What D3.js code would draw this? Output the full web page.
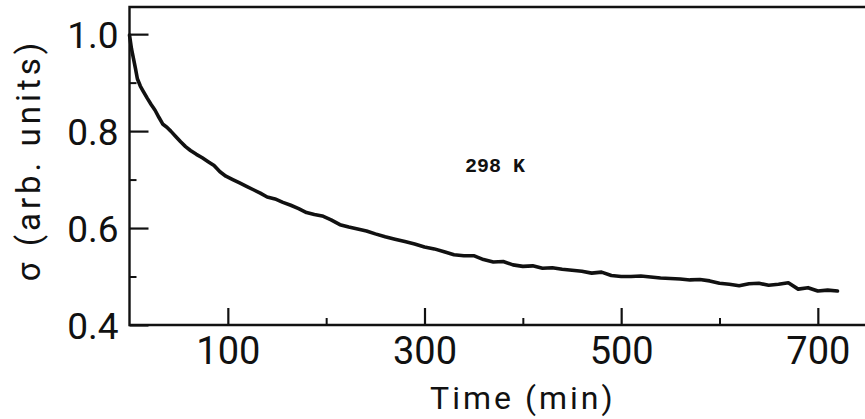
<!DOCTYPE html>
<html>
<head>
<meta charset="utf-8">
<script src="https://cdn.jsdelivr.net/npm/d3@7/dist/d3.min.js"></script>
<style>
  html, body { margin: 0; padding: 0; background: #fff; }
  svg { display: block; }
  text { fill: #111; }
</style>
</head>
<body>
<svg id="chart" width="865" height="419"></svg>
<script>
// Relaxation of sigma at 298 K: time in minutes vs. normalized value
const times = [0, 2, 4, 6, 8, 11, 14, 18, 22, 26, 30, 34, 38, 42, 47, 52, 57, 62, 68, 74,
  80, 86, 92, 98, 105, 112, 119, 126, 133, 140, 148, 156, 164, 172, 180, 188, 196, 205, 214, 223,
  232, 241, 250, 260, 270, 280, 290, 300, 310, 320, 330, 340, 350, 360, 370, 380, 390, 400, 410, 420,
  430, 440, 450, 460, 470, 480, 490, 500, 510, 520, 530, 540, 550, 560, 570, 580, 590, 600, 610, 620,
  630, 640, 650, 660, 670, 680, 690, 700, 710, 720];
const sigma = [0.998, 0.970, 0.950, 0.930, 0.908, 0.893, 0.882, 0.868, 0.855, 0.843, 0.828, 0.814, 0.808, 0.800, 0.789, 0.778, 0.768, 0.760, 0.752, 0.745,
  0.737, 0.729, 0.716, 0.707, 0.700, 0.693, 0.686, 0.679, 0.672, 0.664, 0.660, 0.653, 0.647, 0.640, 0.632, 0.628, 0.625, 0.617, 0.607, 0.602,
  0.598, 0.594, 0.588, 0.582, 0.577, 0.572, 0.567, 0.561, 0.557, 0.551, 0.545, 0.543, 0.543, 0.535, 0.530, 0.531, 0.524, 0.521, 0.522, 0.517,
  0.518, 0.515, 0.513, 0.511, 0.507, 0.509, 0.502, 0.500, 0.500, 0.501, 0.499, 0.497, 0.496, 0.495, 0.493, 0.494, 0.491, 0.486, 0.484, 0.481,
  0.485, 0.486, 0.482, 0.484, 0.487, 0.474, 0.477, 0.470, 0.472, 0.470];

const xMajorTicks = [100, 300, 500, 700];
const xMinorTicks = [200, 400, 600];
const yMajorTicks = [0.4, 0.6, 0.8, 1.0];
const yMinorTicks = [0.5, 0.7, 0.9];
const annotation = "298 K";
const xTitle = "Time (min)";
const yTitle = "σ (arb. units)";

const svg = d3.select("#chart");
const x = d3.scaleLinear().domain([0, 750]).range([129.5, 867]);
const y = d3.scaleLinear().domain([0.4, 1.056]).range([325, 7]);

const ink = "#111";
const sans = "Roboto, 'DejaVu Sans', sans-serif";
const g = svg.append("g");

// frame: left, bottom and top edges (plot runs off to the right)
g.append("path")
  .attr("d", `M${x(750) + 5},${y(1.056)} H${x(0)} V${y(0.4)} H${x(750) + 5}`)
  .attr("fill", "none").attr("stroke", ink).attr("stroke-width", 2.4);

// inward ticks on the left axis
const yAxis = d3.axisLeft(y).tickValues(yMajorTicks).tickSize(-19)
  .tickFormat(d3.format(".1f"));
const yAx = g.append("g").attr("transform", `translate(${x(0)},0)`).call(yAxis);
yAx.select(".domain").remove();
yAx.selectAll(".tick line").attr("stroke", ink).attr("stroke-width", 2.2);
yAx.selectAll(".tick text").attr("font-family", sans)
  .attr("font-size", 37).attr("fill", ink).attr("dy", "0.36em").attr("x", -11);

const yMinor = d3.axisLeft(y).tickValues(yMinorTicks).tickSize(-7).tickFormat("");
const yMi = g.append("g").attr("transform", `translate(${x(0)},0)`).call(yMinor);
yMi.select(".domain").remove();
yMi.selectAll(".tick line").attr("stroke", ink).attr("stroke-width", 2);

// inward ticks on the bottom axis
const xAxis = d3.axisBottom(x).tickValues(xMajorTicks).tickSize(-17).tickFormat(d3.format("d"));
const xAx = g.append("g").attr("transform", `translate(0,${y(0.4)})`).call(xAxis);
xAx.select(".domain").remove();
xAx.selectAll(".tick line").attr("stroke", ink).attr("stroke-width", 2.2);
xAx.selectAll(".tick text").attr("font-family", sans)
  .attr("font-size", 38).attr("fill", ink).attr("y", 39).attr("dy", 0);

const xMinor = d3.axisBottom(x).tickValues(xMinorTicks).tickSize(-7).tickFormat("");
const xMi = g.append("g").attr("transform", `translate(0,${y(0.4)})`).call(xMinor);
xMi.select(".domain").remove();
xMi.selectAll(".tick line").attr("stroke", ink).attr("stroke-width", 2);

// the decay curve
const pts = times.map((t, i) => [t, sigma[i]]);
g.append("path")
  .datum(pts)
  .attr("fill", "none")
  .attr("stroke", ink)
  .attr("stroke-width", 3.6)
  .attr("stroke-linejoin", "round")
  .attr("stroke-linecap", "round")
  .attr("d", d3.line().x(d => x(d[0])).y(d => y(d[1])));

// annotation
g.append("text")
  .attr("x", 465).attr("y", 172)
  .attr("font-family", "'Liberation Mono', 'DejaVu Sans Mono', monospace")
  .attr("font-weight", "bold").attr("font-size", 20)
  .text(annotation);

// axis titles
g.append("text")
  .attr("x", x(400)).attr("y", 409)
  .attr("text-anchor", "middle")
  .attr("font-family", sans)
  .attr("font-size", 32).attr("letter-spacing", 3)
  .text(xTitle);

g.append("text")
  .attr("transform", `translate(40,160) rotate(-90)`)
  .attr("text-anchor", "middle")
  .attr("font-family", sans)
  .attr("font-size", 33).attr("letter-spacing", 4)
  .text(yTitle);
</script>
</body>
</html>
